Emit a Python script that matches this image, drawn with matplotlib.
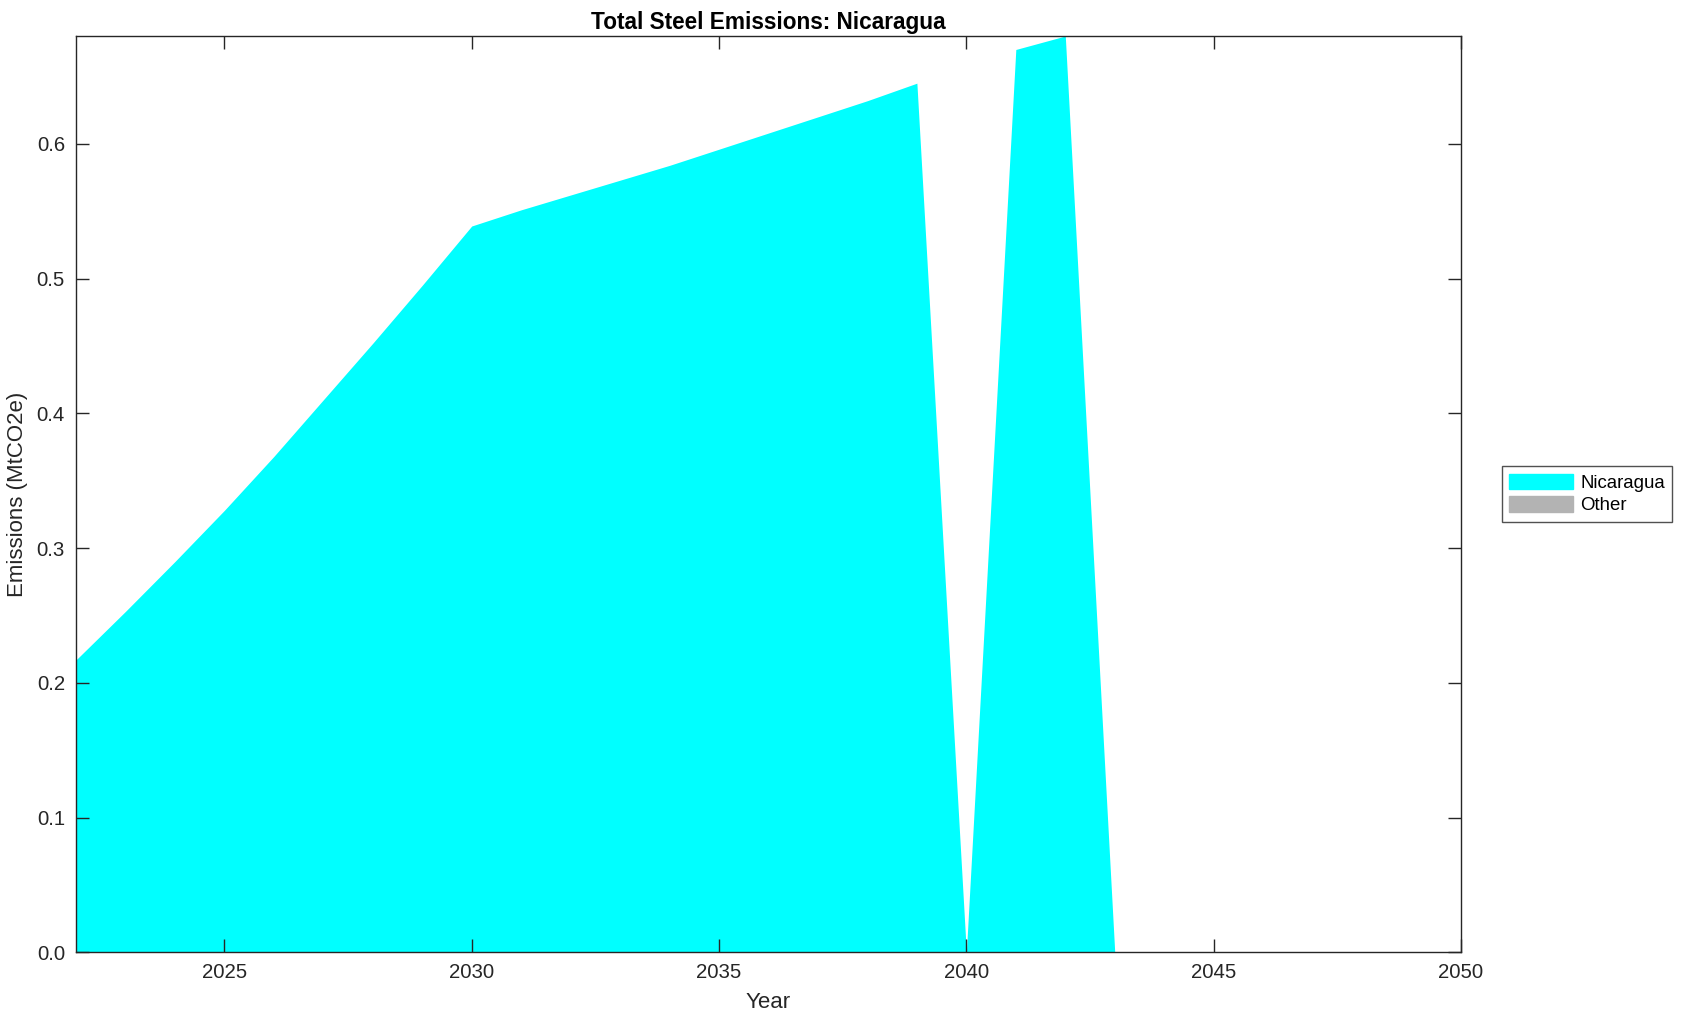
import matplotlib
matplotlib.use("Agg")
import matplotlib.pyplot as plt
from matplotlib.patches import Patch
from matplotlib import font_manager as fm
import numpy as np

plt.rcParams['font.family'] = ['Liberation Sans', 'DejaVu Sans']

years = list(range(2022, 2051))
nicaragua = [0.217, 0.253, 0.290, 0.328, 0.368, 0.410, 0.452, 0.495, 0.539,
             0.551, 0.562, 0.573, 0.584, 0.596, 0.608, 0.620, 0.632, 0.645,
             0.0, 0.670, 0.680, 0.0, 0.0, 0.0, 0.0, 0.0, 0.0, 0.0, 0.0]
other = [0.0] * len(years)

series_names = ["Nicaragua", "Other"]
series_colors = ["#00ffff", "#b3b3b3"]

title = "Total Steel Emissions: Nicaragua"
xlabel = "Year"
ylabel = "Emissions (MtCO2e)"
xticks = [2025, 2030, 2035, 2040, 2045, 2050]
yticks = [0.0, 0.1, 0.2, 0.3, 0.4, 0.5, 0.6]

# locate regular (non-narrow) Liberation Sans Bold for the title
bold_path = None
for f in fm.findSystemFonts():
    name = f.split("/")[-1]
    if name == "LiberationSans-Bold.ttf":
        bold_path = f
        break
title_fp = fm.FontProperties(fname=bold_path, size=16.3) if bold_path else \
    fm.FontProperties(family="Liberation Sans", weight="bold", size=16.3)

fig = plt.figure(figsize=(16.83, 10.21), dpi=100)
ax = fig.add_axes([76/1683, 1 - 952.3/1021, (1461-76)/1683, (952.3-36)/1021])

x = np.array(years)
base = np.zeros(len(years))
top1 = base + np.array(nicaragua)
top2 = top1 + np.array(other)
ax.fill_between(x, base, top1, color=series_colors[0], linewidth=0)
ax.fill_between(x, top1, top2, color=series_colors[1], linewidth=0)

ax.set_xlim(2022, 2050)
ax.set_ylim(0, 0.68)
ax.set_xticks(xticks)
ax.set_yticks(yticks)
ax.set_yticklabels([f"{v:.1f}" for v in yticks])

dark = "#262626"
for s in ax.spines.values():
    s.set_color(dark)
    s.set_linewidth(1.0)
ax.tick_params(direction="in", length=9.5, width=1.0, colors=dark,
               labelsize=14.7, top=True, right=True, pad=8)
ax.set_title(title, fontproperties=title_fp, pad=5)
ax.set_xlabel(xlabel, fontsize=16, color=dark, labelpad=7)
ax.set_ylabel(ylabel, fontsize=16, color=dark, labelpad=6)

handles = [Patch(facecolor=c, edgecolor=c, label=n) for n, c in zip(series_names, series_colors)]
leg = fig.legend(handles=handles, loc="center left",
                 bbox_to_anchor=(1502/1683, 1 - 494/1021), fontsize=13.4,
                 frameon=True, fancybox=False, edgecolor=dark,
                 handlelength=3.4, handleheight=0.9, borderpad=0.4,
                 labelspacing=0.25, handletextpad=0.4, borderaxespad=0)
leg.get_frame().set_linewidth(1.0)

fig.savefig("out.png", dpi=100, facecolor="white")
